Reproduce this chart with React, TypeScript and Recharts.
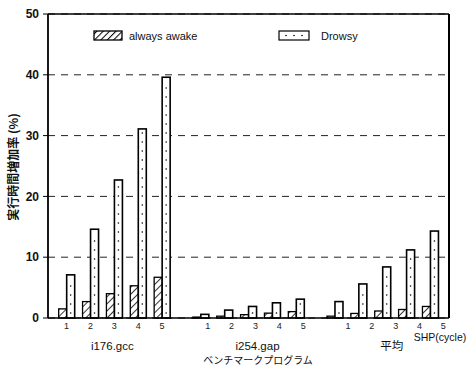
import React from "react";
import {
  BarChart,
  Bar,
  XAxis,
  YAxis,
  CartesianGrid,
  ReferenceLine,
  Legend,
} from "recharts";

// benchmark groups and SHP cycle counts
const groups = ["i176.gcc", "i254.gap", "平均"];
const shpCycles = ["1", "2", "3", "4", "5"];

// execution time increase (%) per group, one value per SHP cycle
const alwaysAwake = [
  [1.5, 2.7, 4.0, 5.3, 6.7],
  [0.15, 0.3, 0.55, 0.8, 1.05],
  [0.3, 0.75, 1.15, 1.4, 1.9],
];
const drowsy = [
  [7.1, 14.6, 22.7, 31.1, 39.6],
  [0.6, 1.3, 1.9, 2.5, 3.1],
  [2.7, 5.6, 8.4, 11.2, 14.3],
];
const yTicks = [0, 10, 20, 30, 40, 50];

const GROUP_GAP = 0.62; // extra space between benchmark groups (in bar-pair units)
const X_MIN = -0.78;
const X_MAX = 16.02;
// the scanned labels drift a little to the right in later groups
const tickShift = [0, 7, 13];
const groupShift = [-2, 9, 9];

const rows = groups.flatMap((g, gi) =>
  shpCycles.map((c, ci) => ({
    pos: gi * (shpCycles.length + GROUP_GAP) + ci,
    group: gi,
    cycle: ci,
    awake: alwaysAwake[gi][ci],
    drowsy: drowsy[gi][ci],
  }))
);

const FONT = "'Liberation Sans', Arial, sans-serif";
const JP = "'Noto Sans CJK JP', sans-serif";

const AwakeBar = (p: any) => {
  const { x, y, width, height } = p;
  if (!height || height <= 0) return null;
  return (
    <rect
      x={x}
      y={y}
      width={width}
      height={height}
      fill="url(#hatch)"
      stroke="#000"
      strokeWidth={1.3}
    />
  );
};

const DrowsyBar = (p: any) => {
  const { x, y, width, height } = p;
  if (!height || height <= 0) return null;
  const dots = [];
  for (let d = 5; d < height - 3; d += 9) {
    dots.push(
      <circle key={d} cx={x + width / 2} cy={y + height - d} r={0.8} fill="#000" />
    );
  }
  return (
    <g>
      <rect x={x} y={y} width={width} height={height} fill="#fff" stroke="#000" strokeWidth={1.6} />
      {dots}
    </g>
  );
};

const XTick = (p: any) => {
  const { x, y, payload } = p;
  const row = rows.find((r) => Math.abs(r.pos - payload.value) < 1e-6);
  if (!row) return null;
  return (
    <g>
      <text
        x={x + tickShift[row.group]}
        y={y + 9}
        textAnchor="middle"
        fontSize={9}
        fontFamily={FONT}
        fill="#222"
      >
        {shpCycles[row.cycle]}
      </text>
      {row.cycle === 2 && (
        <text
          x={x + groupShift[row.group]}
          y={y + 30}
          textAnchor="middle"
          fontSize={11.5}
          fontFamily={row.group === 2 ? JP : FONT}
          fill="#111"
        >
          {groups[row.group]}
        </text>
      )}
    </g>
  );
};

const renderLegend = () => (
  <svg width={300} height={14} style={{ display: "block" }}>
    <rect x={2} y={2} width={28} height={9} fill="url(#hatchLegend)" stroke="#000" strokeWidth={1.3} />
    <text x={37} y={11} fontSize={11} fontFamily={FONT} fill="#111">
      always awake
    </text>
    <rect x={187} y={2} width={30} height={9} fill="#fff" stroke="#000" strokeWidth={1.2} />
    {[194, 202, 210].map((cx) => (
      <circle key={cx} cx={cx} cy={6.5} r={0.8} fill="#000" />
    ))}
    <text x={229} y={11} fontSize={11} fontFamily={FONT} fill="#111">
      Drowsy
    </text>
    <defs>
      <pattern id="hatchLegend" patternUnits="userSpaceOnUse" width={4.5} height={4.5} patternTransform="rotate(45)">
        <rect width={4.5} height={4.5} fill="#fff" />
        <line x1={0} y1={0} x2={0} y2={4.5} stroke="#000" strokeWidth={2} />
      </pattern>
    </defs>
  </svg>
);

export default function App() {
  return (
    <div style={{ position: "absolute", left: 0, top: 0, width: 470, height: 366, background: "#fff" }}>
      <BarChart
        width={470}
        height={366}
        data={rows}
        margin={{ top: 14, right: 21, bottom: 0, left: 18 }}
        barGap={0}
        barSize={8}
      >
        <defs>
          <pattern id="hatch" patternUnits="userSpaceOnUse" width={5} height={5} patternTransform="rotate(45)">
            <rect width={5} height={5} fill="#fff" />
            <line x1={0} y1={0} x2={0} y2={5} stroke="#000" strokeWidth={1.6} />
          </pattern>
        </defs>
        <CartesianGrid
          vertical={false}
          stroke="#222"
          strokeDasharray="7 6"
          strokeWidth={1}
        />
        <XAxis
          type="number"
          dataKey="pos"
          domain={[X_MIN, X_MAX]}
          ticks={rows.map((r) => r.pos)}
          allowDataOverflow
          height={48}
          tickLine={false}
          tickSize={0}
          tickMargin={2}
          interval={0}
          axisLine={{ stroke: "#000", strokeWidth: 1.5 }}
          tick={XTick}
        />
        <YAxis
          domain={[0, 50]}
          ticks={yTicks}
          width={30}
          tickSize={5}
          tickMargin={4}
          axisLine={{ stroke: "#000", strokeWidth: 1.8 }}
          tickLine={{ stroke: "#000", strokeWidth: 1 }}
          tick={{ fontSize: 12, fontWeight: "bold", fontFamily: FONT, fill: "#111" }}
        />
        <ReferenceLine y={50} stroke="#000" strokeWidth={1.5} />
        <ReferenceLine x={X_MAX} stroke="#000" strokeWidth={2} />
        <Legend
          verticalAlign="middle"
          align="center"
          content={renderLegend}
          wrapperStyle={{ top: 29, left: 92, width: 300, height: 14 }}
        />
        <Bar dataKey="awake" name="always awake" shape={AwakeBar} isAnimationActive={false} />
        <Bar dataKey="drowsy" name="Drowsy" shape={DrowsyBar} isAnimationActive={false} />
      </BarChart>
      <svg
        width={470}
        height={366}
        style={{ position: "absolute", left: 0, top: 0, pointerEvents: "none" }}
      >
        <text
          transform="translate(18,167) rotate(-90)"
          textAnchor="middle"
          fontSize={12}
          fontFamily={JP}
          fontWeight="bold"
          fill="#111"
        >
          実行時間増加率 (%)
        </text>
        <text x={440} y={341} textAnchor="middle" fontSize={10.5} fontFamily={FONT} fill="#111">
          SHP(cycle)
        </text>
        <text x={258} y={364} textAnchor="middle" fontSize={10} fontFamily={JP} fill="#111">
          ベンチマークプログラム
        </text>
      </svg>
    </div>
  );
}
